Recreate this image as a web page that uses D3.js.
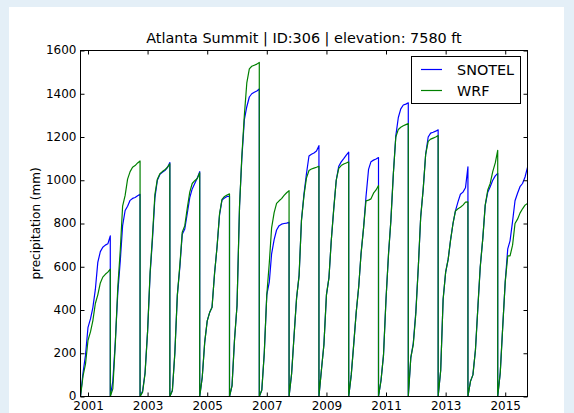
<!DOCTYPE html>
<html>
<head>
<meta charset="utf-8">
<script src="https://cdn.jsdelivr.net/npm/d3@7"></script>
<style>
  html, body { margin: 0; padding: 0; background: #e4eff7; }
  svg { display: block; }
  text { font-family: "DejaVu Sans", sans-serif; fill: #000; }
</style>
</head>
<body>
<svg id="chart" width="574" height="413"></svg>
<script>
// Water years (Oct 1 of previous year through Sep 30)
const waterYears = [2001, 2002, 2003, 2004, 2005, 2006, 2007, 2008, 2009, 2010, 2011, 2012, 2013, 2014, 2015];

// Cumulative precipitation (mm) at the start of each month, Oct 1 .. next Oct 1
const snotel = [
  [0, 110, 190, 320, 360, 410, 495, 620, 670, 690, 700, 706, 743],
  [0, 70, 250, 480, 630, 790, 860, 880, 907, 916, 920, 928, 935],
  [0, 25, 110, 300, 565, 720, 920, 1000, 1027, 1037, 1045, 1058, 1082],
  [0, 28, 200, 470, 600, 750, 775, 845, 920, 960, 985, 1010, 1040],
  [0, 89, 250, 350, 390, 413, 570, 690, 840, 908, 918, 925, 925],
  [0, 50, 260, 420, 880, 1100, 1280, 1340, 1385, 1400, 1407, 1413, 1422],
  [0, 30, 200, 470, 530, 660, 725, 770, 790, 797, 800, 802, 806],
  [0, 105, 280, 455, 560, 815, 937, 1030, 1112, 1120, 1126, 1135, 1160],
  [0, 125, 240, 470, 550, 720, 870, 1000, 1065, 1085, 1100, 1116, 1130],
  [0, 100, 240, 390, 510, 660, 780, 925, 1050, 1086, 1093, 1098, 1105],
  [0, 75, 190, 450, 660, 810, 1030, 1205, 1290, 1330, 1348, 1352, 1358],
  [0, 180, 246, 390, 600, 830, 960, 1120, 1200, 1218, 1222, 1227, 1233],
  [0, 120, 450, 575, 635, 720, 800, 858, 900, 935, 945, 965, 1062],
  [0, 70, 100, 215, 420, 600, 730, 885, 945, 970, 1000, 1020, 1032],
  [0, 110, 320, 530, 683, 720, 810, 905, 940, 970, 985, 1015, 1060]
];
const wrf = [
  [0, 95, 150, 260, 300, 350, 430, 470, 525, 552, 565, 575, 589],
  [0, 35, 240, 505, 680, 880, 930, 1005, 1040, 1060, 1068, 1080, 1089],
  [0, 20, 105, 300, 575, 735, 935, 1005, 1030, 1040, 1048, 1060, 1076],
  [0, 28, 200, 470, 610, 760, 790, 870, 945, 985, 998, 1008, 1035],
  [0, 89, 250, 350, 390, 413, 570, 690, 845, 912, 925, 932, 937],
  [0, 50, 260, 420, 880, 1110, 1300, 1450, 1515, 1527, 1532, 1537, 1545],
  [0, 30, 200, 470, 620, 780, 850, 893, 905, 915, 930, 942, 952],
  [0, 105, 280, 455, 560, 815, 930, 1010, 1045, 1052, 1056, 1060, 1065],
  [0, 125, 240, 470, 550, 720, 870, 1000, 1055, 1068, 1075, 1080, 1085],
  [0, 100, 240, 390, 510, 660, 780, 905, 908, 914, 940, 955, 976],
  [0, 75, 190, 450, 660, 810, 1030, 1200, 1235, 1245, 1252, 1257, 1262],
  [0, 180, 240, 380, 600, 830, 960, 1120, 1180, 1190, 1195, 1200, 1207],
  [0, 120, 450, 575, 635, 720, 800, 858, 868, 875, 885, 899, 900],
  [0, 70, 100, 215, 420, 600, 730, 885, 955, 985, 1040, 1080, 1138],
  [0, 110, 320, 530, 650, 650, 700, 800, 820, 848, 868, 885, 893]
];

const yTicks = [0, 200, 400, 600, 800, 1000, 1200, 1400, 1600];
const xTickYears = [2001, 2003, 2005, 2007, 2009, 2011, 2013, 2015];
const seriesNames = ["SNOTEL", "WRF"];
const seriesColors = ["#0000ff", "#008000"];
const titleText = "Atlanta Summit | ID:306 | elevation: 7580 ft";
const yLabel = "precipitation (mm)";

// Flatten a set of water-year curves into one dated series
function toPoints(rows) {
  const pts = [];
  rows.forEach((vals, i) => {
    const wy = waterYears[i];
    vals.forEach((v, k) => pts.push({ date: new Date(wy - 1, 9 + k, 1), value: v }));
  });
  return pts;
}

const svg = d3.select("#chart");

// white figure panel
svg.append("rect").attr("x", 9).attr("y", 7).attr("width", 555).attr("height", 406).attr("fill", "#fff");

const plot = { left: 80.5, right: 527.5, top: 50.5, bottom: 396.5 };

const x = d3.scaleTime()
  .domain([new Date(2000, 9, 1), new Date(2015, 9, 1)])
  .range([plot.left, plot.right]);
const y = d3.scaleLinear().domain([0, 1600]).range([plot.bottom, plot.top]);

svg.append("clipPath").attr("id", "plotclip")
  .append("rect").attr("x", plot.left).attr("y", plot.top - 2)
  .attr("width", plot.right - plot.left).attr("height", plot.bottom - plot.top + 2);

const line = d3.line().x(d => x(d.date)).y(d => y(d.value));

const lines = svg.append("g").attr("clip-path", "url(#plotclip)");
[snotel, wrf].forEach((rows, i) => {
  lines.append("path")
    .datum(toPoints(rows))
    .attr("d", line)
    .attr("fill", "none")
    .attr("stroke", seriesColors[i])
    .attr("stroke-width", 1.2)
    .attr("stroke-linejoin", "round");
});

// axes with inward ticks on all four sides
const xTickDates = xTickYears.map(yr => new Date(yr, 0, 1));
const gx = svg.append("g").attr("transform", `translate(0,${plot.bottom})`)
  .call(d3.axisBottom(x).tickValues(xTickDates).tickFormat(d3.timeFormat("%Y")).tickSize(-4).tickSizeOuter(0).tickPadding(4));
const gxt = svg.append("g").attr("transform", `translate(0,${plot.top})`)
  .call(d3.axisTop(x).tickValues(xTickDates).tickFormat("").tickSize(-4).tickSizeOuter(0));
const gy = svg.append("g").attr("transform", `translate(${plot.left},0)`)
  .call(d3.axisLeft(y).tickValues(yTicks).tickFormat(d3.format("d")).tickSize(-4).tickSizeOuter(0).tickPadding(4));
const gyr = svg.append("g").attr("transform", `translate(${plot.right},0)`)
  .call(d3.axisRight(y).tickValues(yTicks).tickFormat("").tickSize(-4).tickSizeOuter(0));

[gx, gxt, gy, gyr].forEach(g => {
  g.select(".domain").remove();
  g.selectAll(".tick line").attr("stroke", "#000").attr("stroke-width", 1);
  g.selectAll(".tick text").style("font-family", "DejaVu Sans").style("font-size", "12px").attr("fill", "#000");
});
gx.selectAll(".tick text").attr("dy", "0.8em");
gy.selectAll(".tick text").attr("dy", "0.28em");

// frame
svg.append("rect")
  .attr("x", plot.left).attr("y", plot.top)
  .attr("width", plot.right - plot.left).attr("height", plot.bottom - plot.top)
  .attr("fill", "none").attr("stroke", "#000").attr("stroke-width", 1);

// title and axis label
svg.append("text")
  .attr("x", (plot.left + plot.right) / 2).attr("y", 43)
  .attr("text-anchor", "middle").style("font-size", "14.4px")
  .text(titleText);

svg.append("text")
  .attr("transform", `translate(40,${(plot.top + plot.bottom) / 2}) rotate(-90)`)
  .attr("text-anchor", "middle").style("font-size", "12px")
  .text(yLabel);

// legend
const lg = svg.append("g");
lg.append("rect").attr("x", 411.5).attr("y", 56.5).attr("width", 109).attr("height", 47)
  .attr("fill", "#fff").attr("stroke", "#000").attr("stroke-width", 1);
seriesNames.forEach((name, i) => {
  const yy = 69.5 + i * 21;
  lg.append("line").attr("x1", 421).attr("x2", 442).attr("y1", yy).attr("y2", yy)
    .attr("stroke", seriesColors[i]).attr("stroke-width", 1.2);
  lg.append("text").attr("x", 457).attr("y", yy + 5.2)
    .style("font-size", "14.4px").text(name);
});
</script>
</body>
</html>
